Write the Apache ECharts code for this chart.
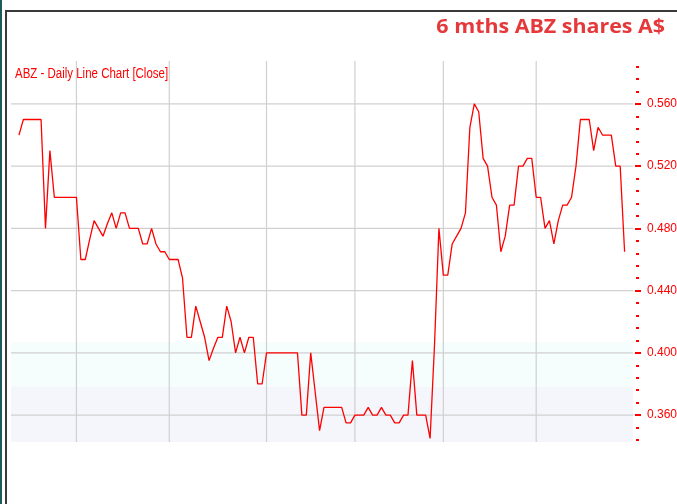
<!DOCTYPE html>
<html>
<head>
<meta charset="utf-8">
<script src="https://cdn.jsdelivr.net/npm/echarts@6/dist/echarts.min.js"></script>
<style>
html, body { margin: 0; padding: 0; background: #fff; }
#chart { width: 677px; height: 504px; }
</style>
</head>
<body>
<div id="chart"></div>
<script>
// daily closes, A$ (one per trading day)
var closes = [
    0.540, 0.550, 0.550, 0.550, 0.550, 0.550,
    0.480, 0.530, 0.500, 0.500, 0.500, 0.500, 0.500, 0.500,
    0.460, 0.460, 0.473, 0.485, 0.480, 0.475, 0.483, 0.490,
    0.480, 0.490, 0.490, 0.480, 0.480, 0.480, 0.470, 0.470,
    0.480, 0.470, 0.465, 0.465, 0.460, 0.460, 0.460, 0.448,
    0.410, 0.410, 0.430, 0.420, 0.410, 0.395, 0.403, 0.410,
    0.410, 0.430, 0.420, 0.400, 0.410, 0.400, 0.410, 0.410,
    0.380, 0.380, 0.400, 0.400, 0.400, 0.400, 0.400, 0.400,
    0.400, 0.400, 0.360, 0.360, 0.400, 0.375, 0.350, 0.365,
    0.365, 0.365, 0.365, 0.365, 0.355, 0.355, 0.360, 0.360,
    0.360, 0.365, 0.360, 0.360, 0.365, 0.360, 0.360, 0.355,
    0.355, 0.360, 0.360, 0.395, 0.360, 0.360, 0.360, 0.345,
    0.405, 0.480, 0.450, 0.450, 0.470, 0.475, 0.480, 0.490,
    0.545, 0.560, 0.555, 0.525, 0.520, 0.500, 0.495, 0.465,
    0.475, 0.495, 0.495, 0.520, 0.520, 0.525, 0.525, 0.500,
    0.500, 0.480, 0.485, 0.470, 0.485, 0.495, 0.495, 0.500,
    0.520, 0.550, 0.550, 0.550, 0.530, 0.545, 0.540, 0.540,
    0.540, 0.520, 0.520, 0.465
];
// day index where each new month starts (vertical grid lines)
var monthStarts = [13, 34, 56, 76, 96, 117];
// labelled price ticks
var priceTicks = [0.36, 0.40, 0.44, 0.48, 0.52, 0.56];
// small unlabelled ticks
var minorTicks = [0.344, 0.352, 0.368, 0.376, 0.384, 0.392, 0.408, 0.416, 0.424, 0.432,
    0.448, 0.456, 0.464, 0.472, 0.488, 0.496, 0.504, 0.512, 0.528, 0.536,
    0.544, 0.552, 0.568, 0.576, 0.584];

var chart = echarts.init(document.getElementById('chart'));
var xMin = -1.8, xMax = 138.9;
var yMin = 0.3427, yMax = 0.5876;
var red = '#ff0000';
var gridColor = '#d0d0d0';

// gray grid lines as plain two-point line series
function gridSeries(points) {
    return {
        type: 'line', data: points, z: 1, silent: true, symbol: 'none',
        lineStyle: { color: gridColor, width: 1.2 }
    };
}
// faint shaded band between two prices
function bandSeries(lo, hi, color) {
    return {
        type: 'line', z: 0, silent: true, symbol: 'none',
        data: [[xMin, hi], [xMax, hi]],
        lineStyle: { width: 0, opacity: 0 },
        areaStyle: { color: color, opacity: 1, origin: lo }
    };
}

var series = [
    bandSeries(yMin, 0.378, '#f4f6fb'),
    bandSeries(0.378, 0.407, '#f5fdfd')
];
monthStarts.forEach(function (d) { series.push(gridSeries([[d, yMin], [d, yMax]])); });
priceTicks.forEach(function (p) { series.push(gridSeries([[xMin, p], [xMax, p]])); });
series.push({
    type: 'line', z: 3,
    data: closes.map(function (v, i) { return [i, v]; }),
    symbol: 'none',
    lineStyle: { color: red, width: 1.3 }
});

var option = {
    animation: false,
    backgroundColor: '#fff',
    grid: { left: 11, right: 44, top: 61, bottom: 62, outerBoundsMode: 'none' },
    xAxis: { type: 'value', min: xMin, max: xMax, show: false, axisLine: { onZero: false } },
    yAxis: [{
        type: 'value', position: 'right', min: yMin, max: yMax, offset: 2,
        axisLine: { show: false, onZero: false },
        splitLine: { show: false },
        axisTick: { show: true, customValues: priceTicks, length: 6, lineStyle: { color: red, width: 2 } },
        axisLabel: {
            customValues: priceTicks, margin: 12, color: red, fontSize: 12,
            fontFamily: '"Liberation Sans", Arial, sans-serif',
            formatter: function (v) { return v.toFixed(3); }
        }
    }, {
        type: 'value', position: 'right', min: yMin, max: yMax, offset: 3,
        axisLine: { show: false, onZero: false },
        splitLine: { show: false },
        axisTick: { show: true, customValues: minorTicks, length: 3, lineStyle: { color: red, width: 2 } },
        axisLabel: { show: false }
    }],
    graphic: [
        { type: 'rect', shape: { x: 0, y: 0, width: 2, height: 504 }, style: { fill: '#1d5a5a' } },
        { type: 'polyline', shape: { points: [[6, 504], [6, 11], [677, 11]] },
          style: { stroke: '#3a3a3a', lineWidth: 2, fill: null } },
        { type: 'text', x: 665, y: 27, scaleX: 1.07,
          style: { text: '6 mths ABZ shares A$', fill: '#e5383b', font: 'bold 20px "Open Sans", sans-serif',
                   textAlign: 'right', textVerticalAlign: 'middle' } },
        { type: 'text', x: 15, y: 74, scaleX: 0.82,
          style: { text: 'ABZ - Daily Line Chart [Close]', fill: red, font: '14px "Liberation Sans", Arial, sans-serif',
                   textAlign: 'left', textVerticalAlign: 'middle' } }
    ],
    series: series
};
chart.setOption(option);
</script>
</body>
</html>
